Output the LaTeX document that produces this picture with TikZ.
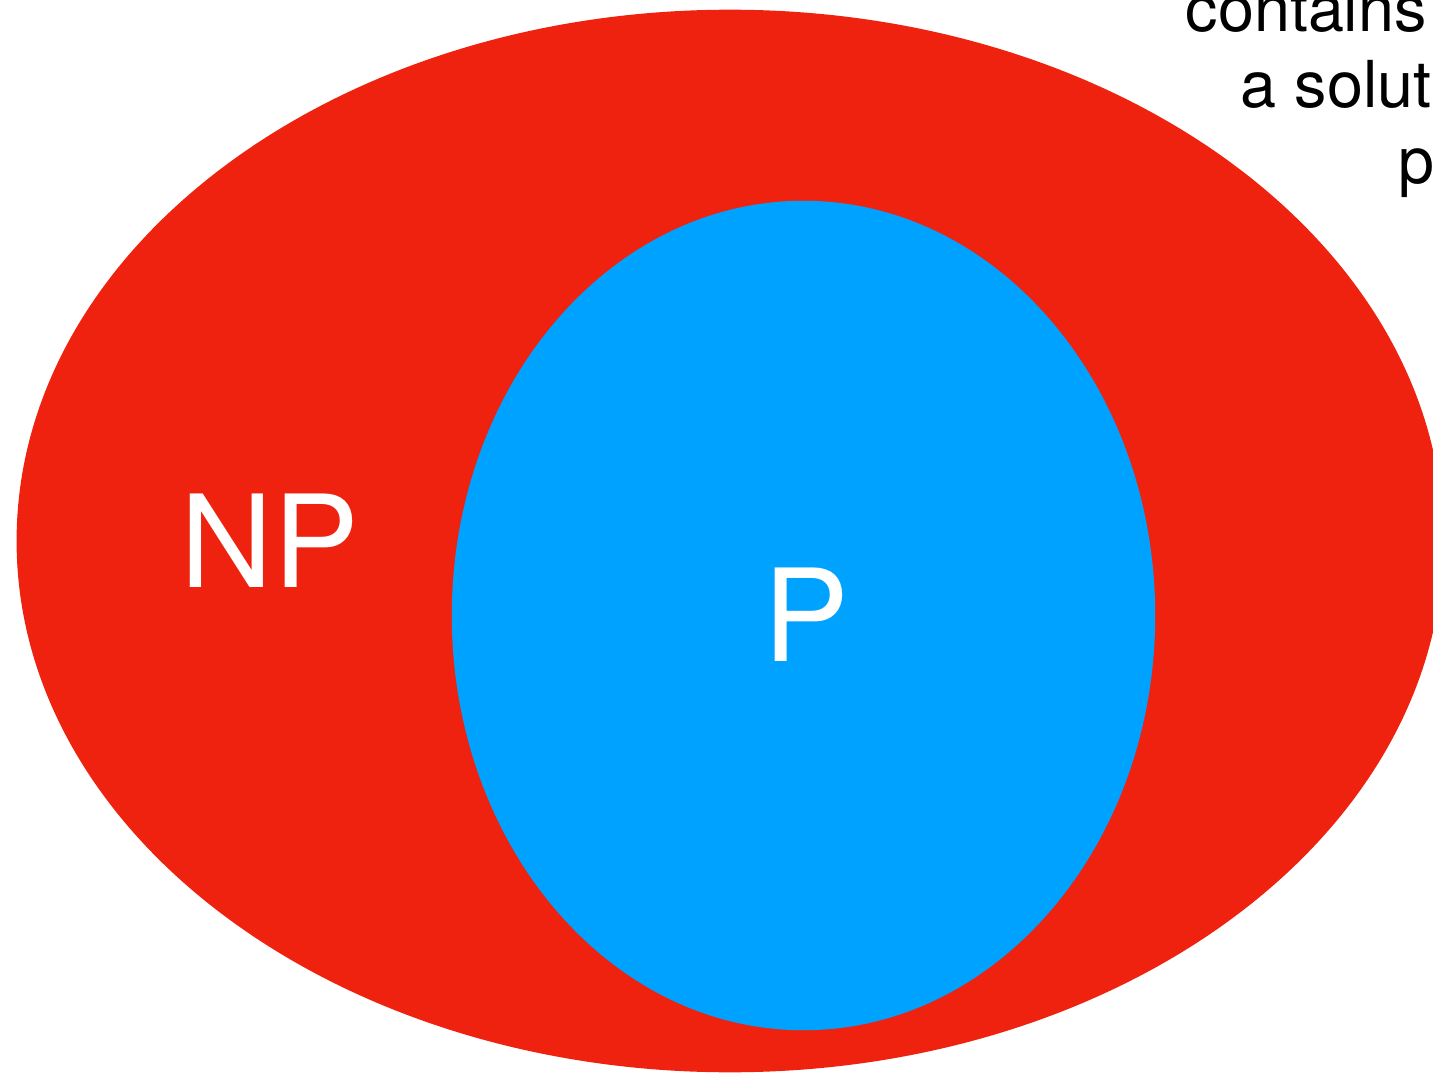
\documentclass[tikz,border=0pt]{standalone}
\usepackage{fontspec}
\setmainfont{TeX Gyre Heros}
\usetikzlibrary{shapes.geometric, positioning}
\definecolor{ClassRed}{RGB}{238, 34, 14}
\definecolor{ClassBlue}{RGB}{0, 162, 255}

\tikzset{
    setblob/.style={ellipse, inner sep=0pt, draw=none},
    setlabel/.style={text=white, inner sep=0pt, font=\fontsize{36.5pt}{40pt}\selectfont},
    sidetext/.style={anchor=base west, inner sep=0pt, font=\fontsize{18.4pt}{22pt}\selectfont}
}

\begin{document}
\begin{tikzpicture}[x=0.01cm, y=-0.01cm]
        \useasboundingbox (0,0) rectangle (1433,1073);
        % the two classes
        \node[setblob, fill=ClassRed, minimum width=14.26cm, minimum height=10.62cm] (np) at (730,541) {};
        \node[setblob, fill=ClassBlue, minimum width=7.03cm, minimum height=8.29cm] (p) at (803.5,615.5) {};
        \node[setlabel] (nplabel) at (270,541) {NP};
        \node[setlabel] (plabel) at (806,615) {P};
        % cut-off note, top right
        \node[sidetext] (noteone) at (1185,32) {contains};
        \node[sidetext] (notetwo) at (1240,108) {a solut};
        \node[sidetext] (notethree) at (1398,184) {p};
    \end{tikzpicture}
\end{document}
